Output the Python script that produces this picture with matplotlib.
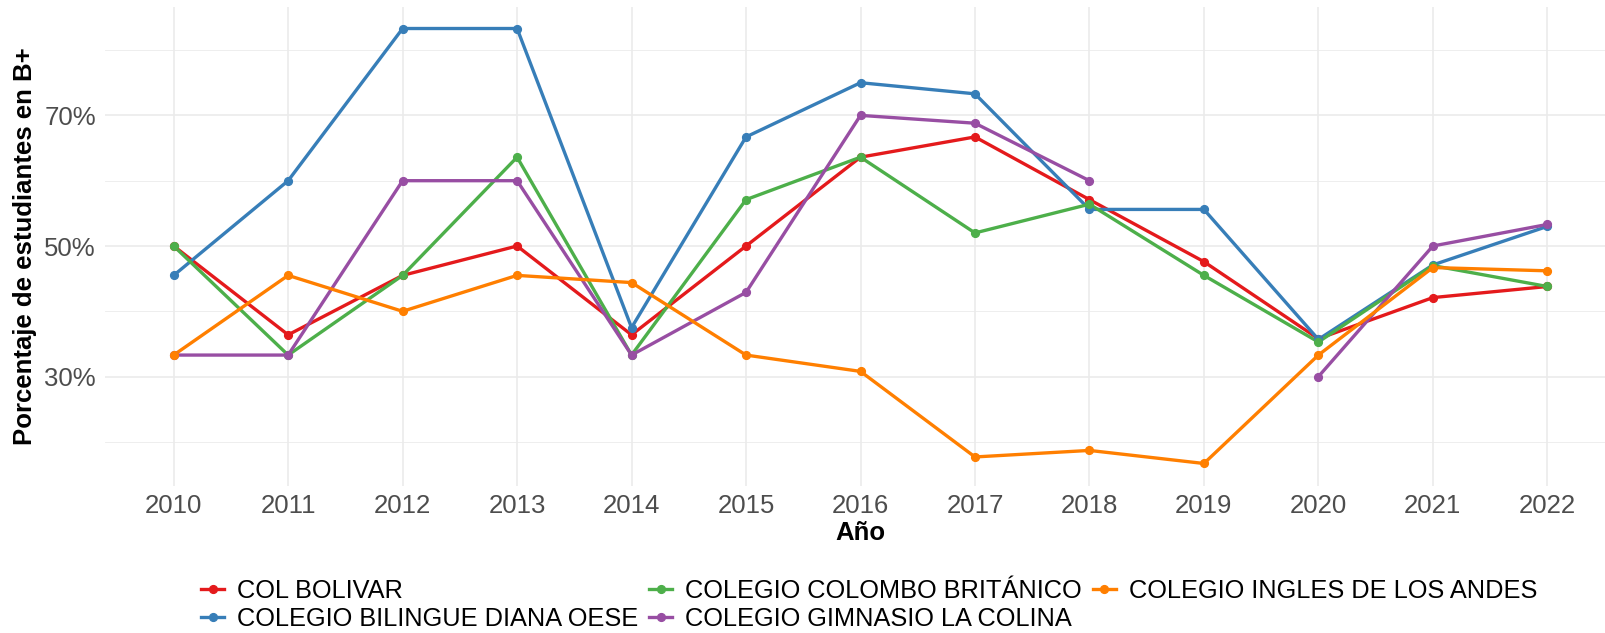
import numpy as np
import matplotlib
matplotlib.use("Agg")
import matplotlib.pyplot as plt
from matplotlib.lines import Line2D

plt.rcParams['font.family'] = ['Liberation Sans', 'DejaVu Sans']

years = list(range(2010, 2023))
col_bolivar = [50, 36.4, 45.5, 50, 36.4, 50, 63.6, 66.7, 57.1, 47.6, 35.8, 42.1, 43.8]
bilingue_diana = [45.5, 60, 83.3, 83.3, 37.5, 66.7, 75, 73.3, 55.6, 55.6, 35.7, 47.1, 53.0]
colombo_britanico = [50, 33.3, 45.5, 63.6, 33.3, 57.1, 63.6, 52.0, 56.4, 45.5, 35.3, 47.0, 43.8]
gimnasio_colina = [33.3, 33.3, 60, 60, 33.3, 42.9, 70, 68.8, 60, np.nan, 30, 50, 53.3]
ingles_andes = [33.3, 45.5, 40, 45.5, 44.4, 33.3, 30.8, 17.7, 18.7, 16.7, 33.3, 46.7, 46.2]

series = [
    ("COL BOLIVAR", col_bolivar, "#E41A1C"),
    ("COLEGIO BILINGUE DIANA OESE", bilingue_diana, "#377EB8"),
    ("COLEGIO COLOMBO BRITÁNICO", colombo_britanico, "#4DAF4A"),
    ("COLEGIO GIMNASIO LA COLINA", gimnasio_colina, "#984EA3"),
    ("COLEGIO INGLES DE LOS ANDES", ingles_andes, "#FF7F00"),
]

W, H = 1606, 633
fig = plt.figure(figsize=(W / 100, H / 100), dpi=100)
left, right, top, bottom = 105, 1616, 6.5, 485.5
ax = fig.add_axes([left / W, 1 - bottom / H, (right - left) / W, (bottom - top) / H])

for sp in ax.spines.values():
    sp.set_visible(False)

ax.set_xlim(2009.4, 2022.6)
ax.set_ylim(13.33, 86.67)
ax.set_xticks(years)
ax.set_xticklabels([str(y) for y in years])
ax.set_yticks([30, 50, 70])
ax.set_yticklabels(["30%", "50%", "70%"])
ax.set_yticks([20, 40, 60, 80], minor=True)
ax.tick_params(axis='both', which='both', length=0, labelsize=18.5, labelcolor='#4D4D4D')
ax.tick_params(axis='x', pad=6)
ax.tick_params(axis='y', pad=6.5)
ax.grid(True, which='major', color='#EBEBEB', linewidth=1.2)
ax.grid(True, which='minor', axis='y', color='#EBEBEB', linewidth=0.6)
ax.set_axisbelow(True)

lw, ms = 2.4, 5.6
x = np.array(years)
for name, vals, c in series:
    ax.plot(x, vals, color=c, linewidth=lw, solid_capstyle='butt', zorder=2)
for name, vals, c in series:
    ax.plot(x, vals, linestyle='none', marker='o', markersize=ms, color=c, zorder=3)

fig.text((left + right) / 2 / W, 1 - 533 / H, "Año", ha='center', va='center',
         fontsize=18.5, fontweight='bold')
fig.text(25 / W, 1 - 246 / H, "Porcentaje de estudiantes en B+", ha='center', va='center',
         rotation=90, fontsize=18.5, fontweight='bold')

handles = [Line2D([0], [0], color=c, linewidth=lw, marker='o', markersize=ms)
           for _, _, c in series]
labels = [n for n, _, _ in series]
fig.legend(handles, labels, ncol=3, loc='center', bbox_to_anchor=(869 / W, 1 - 605 / H),
           frameon=False, fontsize=18.3, handlelength=0.9, handletextpad=0.5,
           columnspacing=0.45, labelspacing=0.15, borderpad=0)

fig.savefig("out.png", dpi=100)
